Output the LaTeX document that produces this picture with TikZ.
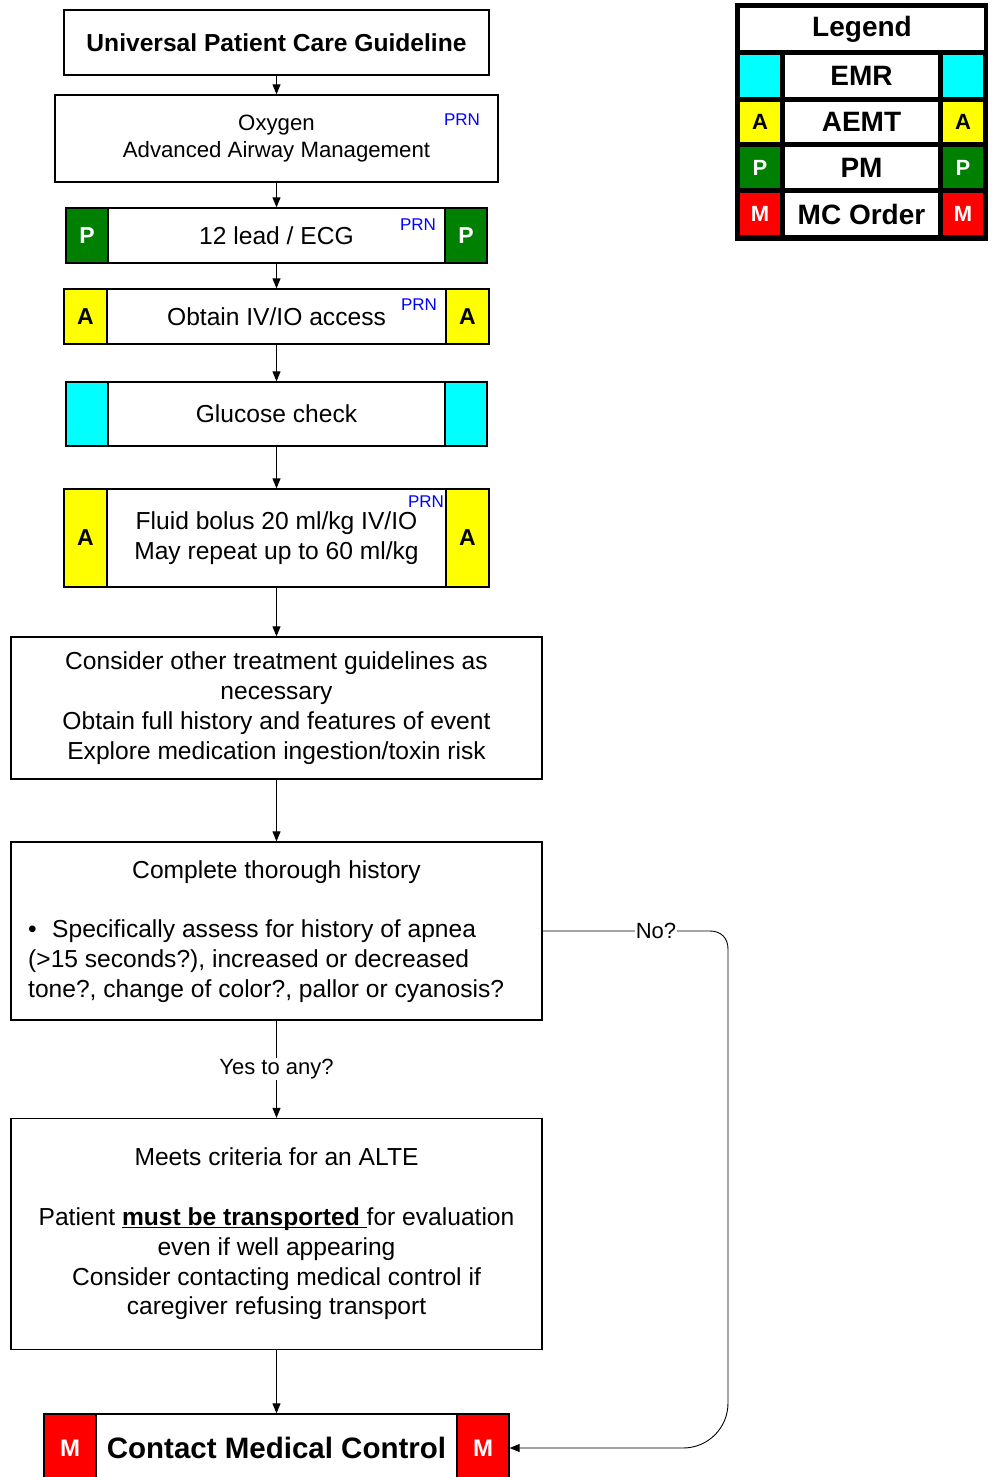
\documentclass[tikz,border=0pt]{standalone}
\usepackage{fontspec}
\setmainfont{Liberation Sans}
\usetikzlibrary{arrows.meta}
\definecolor{pgreen}{RGB}{0,128,0}
\definecolor{ayellow}{RGB}{255,255,0}
\definecolor{ecyan}{RGB}{0,255,255}
\definecolor{mred}{RGB}{255,0,0}
\definecolor{prnblue}{RGB}{0,0,255}
% underline drawn close to the baseline
\newcommand{\tightul}[1]{\setbox0\hbox{#1}\rlap{\rule[-3pt]{\wd0}{1.6pt}}\box0}
\begin{document}
\begin{tikzpicture}[x=1pt,y=-1pt,
  box/.style={draw=black, line width=1.3pt, fill=white, rectangle, inner sep=0pt,
    align=center, font=\fontsize{24.6}{29.8}\selectfont},
  tag/.style={draw=black, line width=1.3pt, rectangle, inner sep=0pt,
    font=\bfseries\fontsize{23}{23}\selectfont},
  prn/.style={text=prnblue, inner sep=0pt, font=\fontsize{17}{17}\selectfont},
  txt/.style={inner sep=0pt, font=\fontsize{24.6}{29.8}\selectfont},
  flow/.style={line width=0.9pt, -{Triangle[length=10pt,width=8pt]}},
  lbl/.style={fill=white, inner sep=1pt, font=\fontsize{22}{22}\selectfont},
  legcell/.style={fill=white, inner sep=0pt, font=\bfseries\fontsize{28}{28}\selectfont},
  legtag/.style={inner sep=0pt, minimum width=40, font=\bfseries\fontsize{22}{22}\selectfont}
]
\useasboundingbox (0,0) rectangle (991,1477);
\fill[white] (0,0) rectangle (991,1477);

% ---------- flow boxes ----------
\node[box, minimum width=425, minimum height=65] (b1) at (276.5,42.5)
  {\bfseries Universal Patient Care Guideline};

\node[box, minimum width=443, minimum height=87, font=\fontsize{22.2}{27}\selectfont] (b2) at (276.5,138.5)
  {Oxygen\\Advanced Airway Management};
\node[prn] (prn2) at (462,120) {PRN};

\node[box, minimum width=421, minimum height=55] (b3) at (276.5,235.5) {12 lead / ECG};
\node[tag, fill=pgreen, text=white, minimum width=42, minimum height=55] (b3l) at (87,235.5) {P};
\node[tag, fill=pgreen, text=white, minimum width=42, minimum height=55] (b3r) at (466,235.5) {P};
\node[prn] (prn3) at (418,225) {PRN};

\node[box, minimum width=425, minimum height=55] (b4) at (276.5,316.5) {Obtain IV/IO access};
\node[tag, fill=ayellow, minimum width=43, minimum height=55] (b4l) at (85.5,316.5) {A};
\node[tag, fill=ayellow, minimum width=43, minimum height=55] (b4r) at (467.5,316.5) {A};
\node[prn] (prn4) at (419,305) {PRN};

\node[box, minimum width=421, minimum height=64] (b5) at (276.5,414) {Glucose check};
\node[tag, fill=ecyan, minimum width=42, minimum height=64] (b5l) at (87,414) {};
\node[tag, fill=ecyan, minimum width=42, minimum height=64] (b5r) at (466,414) {};

\node[box, minimum width=425, minimum height=98] (b6) at (276.5,538)
  {Fluid bolus 20 ml/kg IV/IO\\May repeat up to 60 ml/kg};
\node[tag, fill=ayellow, minimum width=43, minimum height=98] (b6l) at (85.5,538) {A};
\node[tag, fill=ayellow, minimum width=43, minimum height=98] (b6r) at (467.5,538) {A};
\node[prn] (prn6) at (426,502) {PRN};

\node[box, minimum width=531, minimum height=142] (b7) at (276.5,708)
  {Consider other treatment guidelines as\\necessary\\Obtain full history and features of event\\Explore medication ingestion/toxin risk};

\node[box, minimum width=531, minimum height=178] (b8) at (276.5,931) {};
\node[txt] (b8a) at (276.5,872) {Complete thorough history};
\node[txt, anchor=west, align=left] (b8b) at (28,961)
  {\makebox[24pt][l]{\textbullet}Specifically assess for history of apnea\\
   (>15 seconds?), increased or decreased\\
   tone?, change of color?, pallor or cyanosis?};

\node[box, minimum width=531, minimum height=231] (b9) at (276.5,1234)
  {Meets criteria for an ALTE\\[29.8pt]
   Patient \tightul{\textbf{must be transported}\ }for evaluation\\
   even if well appearing\\
   Consider contacting medical control if\\
   caregiver refusing transport};

\node[box, minimum width=465, minimum height=68, font=\bfseries\fontsize{29.5}{30}\selectfont] (b10) at (276.5,1448)
  {Contact Medical Control};
\node[tag, fill=mred, text=white, minimum width=52, minimum height=68, font=\bfseries\fontsize{24}{24}\selectfont] (b10l) at (70,1448) {M};
\node[tag, fill=mred, text=white, minimum width=52, minimum height=68, font=\bfseries\fontsize{24}{24}\selectfont] (b10r) at (483,1448) {M};

% ---------- connectors ----------
\draw[flow] (b1.south) -- (b2.north);
\draw[flow] (b2.south) -- (b3.north);
\draw[flow] (b3.south) -- (b4.north);
\draw[flow] (b4.south) -- (b5.north);
\draw[flow] (b5.south) -- (b6.north);
\draw[flow] (b6.south) -- (b7.north);
\draw[flow] (b7.south) -- (b8.north);
\draw[flow] (b8.south) -- node[lbl] (yes) {Yes to any?} (b9.north);
\draw[flow] (b9.south) -- (b10.north);
\draw[flow] (b8.east) -- (710,931) .. controls (721,931) and (728,938) .. (728,949)
  -- (728,1403) .. controls (728,1428) and (708,1448) .. (683,1448) -- (b10.east);
\node[lbl] (no) at (656,931) {No?};

% ---------- legend ----------
\node[fill=black, inner sep=0pt, minimum width=253, minimum height=238] (leg) at (861.5,122) {};
\node[legcell, minimum width=244, minimum height=42] (legt) at (862,29.5) {Legend};

\node[legtag, fill=ecyan, minimum height=42] (l1a) at (760,76) {};
\node[legcell, minimum width=153, minimum height=42] (l1) at (861.5,76) {EMR};
\node[legtag, fill=ecyan, minimum height=42] (l1b) at (963,76) {};

\node[legtag, fill=ayellow, minimum height=40] (l2a) at (760,122) {A};
\node[legcell, minimum width=153, minimum height=40] (l2) at (861.5,122) {AEMT};
\node[legtag, fill=ayellow, minimum height=40] (l2b) at (963,122) {A};

\node[legtag, fill=pgreen, text=white, minimum height=41] (l3a) at (760,167.5) {P};
\node[legcell, minimum width=153, minimum height=41] (l3) at (861.5,167.5) {PM};
\node[legtag, fill=pgreen, text=white, minimum height=41] (l3b) at (963,167.5) {P};

\node[legtag, fill=mred, text=white, minimum height=42] (l4a) at (760,214) {M};
\node[legcell, minimum width=153, minimum height=42] (l4) at (861.5,214) {MC Order};
\node[legtag, fill=mred, text=white, minimum height=42] (l4b) at (963,214) {M};
\end{tikzpicture}
\end{document}
